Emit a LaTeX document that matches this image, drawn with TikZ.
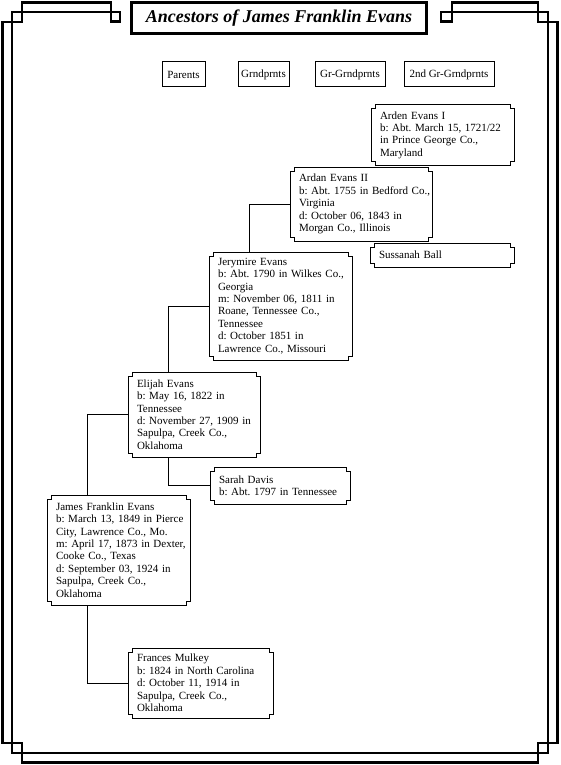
\documentclass[tikz,border=0pt]{standalone}
\usepackage{fontspec}
\setmainfont{Liberation Serif}
\frenchspacing
\begin{document}
\begin{tikzpicture}[x = 1pt, y = -1pt, % pixel grid, y runs down
    line width = 1pt, % connector lines
    outer sep = 0pt,
    frame/.style = {line width = 2.6pt, line join = miter},
    head/.style = {draw, minimum height = 25pt, inner sep = 2pt,
      font = \fontsize{11}{12.4}\selectfont},
    person/.style = {anchor = north west, align = left, inner xsep = 9pt,
      inner ysep = 0pt, text width = 125pt, font = \fontsize{11}{12.4}\selectfont,
      execute at begin node = {\rightskip=0pt plus 1fil minus 20pt}}
  ]
  \useasboundingbox (0,0) rectangle (560,765);

  % double border with notched corners, open under the title
  \draw[frame] (120,12) -- (12,12) -- (12,753) -- (548,753) -- (548,12)
    -- (441,12) -- (441,21.5) -- (452,21.5) -- (452,2.5) -- (538,2.5)
    -- (538,22) -- (557.5,22) -- (557.5,743) -- (538,743) -- (538,762.5)
    -- (22,762.5) -- (22,743) -- (2.5,743) -- (2.5,22) -- (22,22)
    -- (22,2.5) -- (111,2.5) -- (111,21.5) -- (120,21.5) -- cycle;

  \node (t) [draw, line width = 3pt, minimum width = 295pt, minimum height = 31pt,
    font = \fontsize{18}{20}\selectfont\bfseries\itshape] at (279,18)
    {Ancestors of James Franklin Evans};

  % generation headings
  \node (h1) [head, minimum width = 43pt] at (183.5,74.5) {Parents};
  \node (h2) [head, minimum width = 51pt] at (263.5,74.5) {Grndprnts};
  \node (h3) [head, minimum width = 70pt] at (350,74.5) {Gr-Grndprnts};
  \node (h4) [head, minimum width = 90pt] at (449,74.5) {2nd Gr-Grndprnts};

  % people, numbered as in an ahnentafel
  \node (16) [person, minimum height = 60pt] at (371,105) {Arden Evans I\\
    b: Abt. March 15, 1721/22\\ in Prince George Co.,\\ Maryland};
  \node (8) [person, text width = 124pt, minimum height = 74pt] at (290,167)
    {Ardan Evans II\\ b: Abt. 1755 in Bedford Co.,\\ Virginia\\
    d: October 06, 1843 in\\ Morgan Co., Illinois};
  \node (17) [person, text width = 126pt, minimum height = 24pt] at (370,243)
    {Sussanah Ball};
  \node (4) [person, minimum height = 108pt] at (209,252) {Jerymire Evans\\
    b: Abt. 1790 in Wilkes Co.,\\ Georgia\\ m: November 06, 1811 in\\
    Roane, Tennessee Co.,\\ Tennessee\\ d: October 1851 in\\
    Lawrence Co., Missouri};
  \node (2) [person, text width = 114pt, minimum height = 85pt] at (128,372)
    {Elijah Evans\\ b: May 16, 1822 in\\ Tennessee\\ d: November 27, 1909 in\\
    Sapulpa, Creek Co.,\\ Oklahoma};
  \node (5) [person, text width = 122pt, minimum height = 37pt] at (210,467)
    {Sarah Davis\\ b: Abt. 1797 in Tennessee};
  \node (1) [person, minimum height = 110pt] at (47,495) {James Franklin Evans\\
    b: March 13, 1849 in Pierce\\ City, Lawrence Co., Mo.\\
    m: April 17, 1873 in Dexter,\\ Cooke Co., Texas\\
    d: September 03, 1924 in\\ Sapulpa, Creek Co.,\\ Oklahoma};
  \node (3) [person, text width = 127pt, minimum height = 70pt] at (128,648)
    {Frances Mulkey\\ b: 1824 in North Carolina\\ d: October 11, 1914 in\\
    Sapulpa, Creek Co.,\\ Oklahoma};

  % notched outline round every person
  \foreach \n in {1,2,3,4,5,8,16,17}
    \draw ([yshift=-4pt]\n.north west) -- ++(4pt,0pt) -- ++(0pt,4pt)
      -- ([xshift=-4pt]\n.north east) -- ++(0pt,-4pt) -- ++(4pt,0pt)
      -- ([yshift=4pt]\n.south east) -- ++(-4pt,0pt) -- ++(0pt,-4pt)
      -- ([xshift=4pt]\n.south west) -- ++(0pt,4pt) -- ++(-4pt,0pt) -- cycle;

  % father above, mother below
  \draw ([xshift=40.5pt]1.north west) |- (2.west);
  \draw ([xshift=40.5pt]1.south west) |- (3.west);
  \draw ([xshift=40.5pt]2.north west) |- (4.west);
  \draw ([xshift=40.5pt]2.south west) |- (5.west);
  \draw ([xshift=40.5pt]4.north west) |- (8.west);
\end{tikzpicture}
\end{document}
